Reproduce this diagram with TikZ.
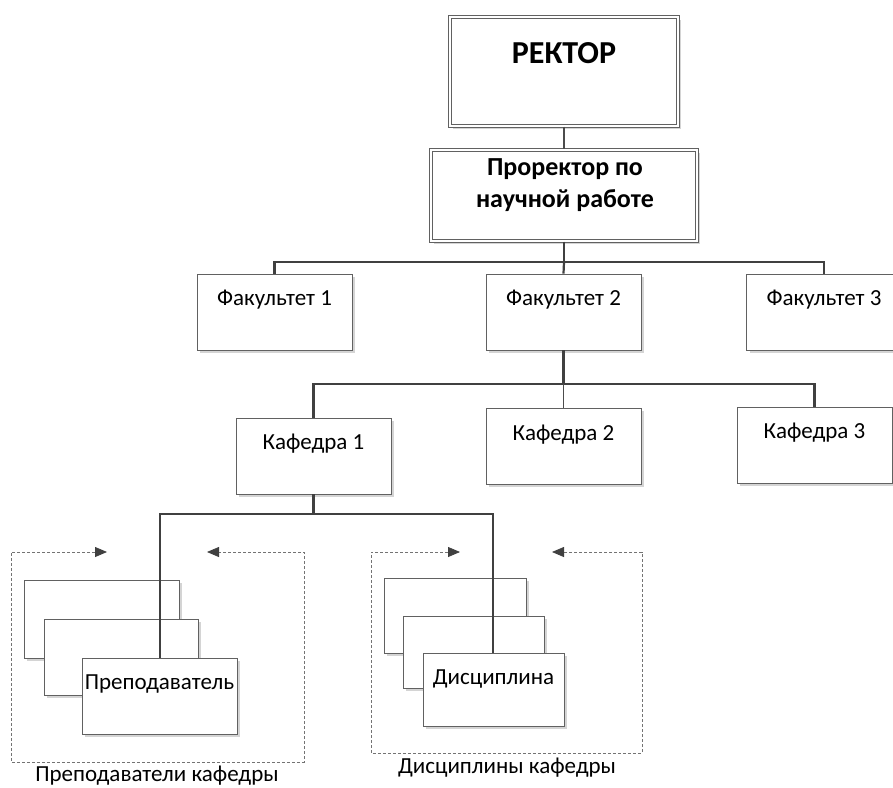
\documentclass[tikz,border=0pt]{standalone}
\usepackage{fontspec}
\setmainfont{Carlito}
\usetikzlibrary{shadows,arrows.meta}
\tikzset{
  box/.style={draw=black!62, line width=0.9pt, fill=white, inner sep=0pt,
    drop shadow={shadow xshift=3pt, shadow yshift=-3pt, fill=black!17, opacity=1}},
  dbox/.style={box, double=white, double distance=1.6pt},
  stdbox/.style={box, minimum width=155pt, minimum height=76pt},
  lbl/.style={anchor=base, inner sep=0pt, font=\fontsize{23}{27}\selectfont},
  conn/.style={draw=black!75, line width=2.2pt},
  thinconn/.style={draw=black!70, line width=1.5pt},
  dashframe/.style={draw=black!55, line width=0.8pt, dash pattern=on 3pt off 2pt,
    {Triangle[length=12pt,width=10pt,color=black!75]}-{Triangle[length=12pt,width=10pt,color=black!75]}}
}
\begin{document}
\begin{tikzpicture}[x=1pt,y=-1pt]
\useasboundingbox (0,0) rectangle (893,787);
% top
\node[dbox, minimum width=228.2pt, minimum height=109.2pt] (rector) at (564,71.5) {};
\node[anchor=base, inner sep=0pt, font=\bfseries\fontsize{32}{36}\selectfont] (rectort) at (564,63) {РЕКТОР};
\node[dbox, minimum width=266.2pt, minimum height=91.2pt] (prorector) at (564,195.5) {};
\node[anchor=base, inner sep=0pt, font=\bfseries\fontsize{26}{30}\selectfont] (prot1) at (565,175) {Проректор по};
\node[anchor=base, inner sep=0pt, font=\bfseries\fontsize{26}{30}\selectfont] (prot2) at (565,207) {научной работе};
% faculties
\node[stdbox] (fak1) at (274.5,312) {};
\node[lbl] (fak1t) at (274.5,305) {Факультет 1};
\node[stdbox] (fak2) at (563.5,312) {};
\node[lbl] (fak2t) at (563.5,305) {Факультет 2};
\node[stdbox] (fak3) at (824,312) {};
\node[lbl] (fak3t) at (824,305) {Факультет 3};
% departments
\node[stdbox] (kaf1) at (313.5,456) {};
\node[lbl] (kaf1t) at (313.5,449) {Кафедра 1};
\node[stdbox] (kaf2) at (563.5,446) {};
\node[lbl] (kaf2t) at (563.5,440) {Кафедра 2};
\node[stdbox] (kaf3) at (814.5,445) {};
\node[lbl] (kaf3t) at (814.5,438) {Кафедра 3};
% teachers stack
\node[box, minimum width=155pt, minimum height=78pt] (prepA) at (101.5,619) {};
\node[box, minimum width=154pt, minimum height=76pt] (prepB) at (121,657) {};
\node[box, minimum width=155pt, minimum height=76pt] (prepC) at (159.5,696) {};
\node[lbl] (prepCt) at (159.5,689) {Преподаватель};
% disciplines stack
\node[box, minimum width=142pt, minimum height=75pt] (discA) at (455,615.5) {};
\node[box, minimum width=141pt, minimum height=72pt] (discB) at (473.5,652) {};
\node[box, minimum width=141pt, minimum height=73pt] (discC) at (493.5,689.5) {};
\node[lbl] (discCt) at (493.5,684) {Дисциплина};
% connectors
\draw[thinconn] (rector.south) -- (prorector.north);
\coordinate (bar1) at (564,262);
\draw[conn] (prorector.south) -- (bar1);
\draw[conn] (fak1.north) |- (bar1) -| (fak3.north);
\draw[conn] (bar1) -- (fak2.north);
\coordinate (bar2) at (563.5,384);
\draw[conn] (fak2.south) -- (bar2);
\draw[conn] (kaf1.north) |- (bar2) -| (kaf3.north);
\draw[thinconn] (bar2) -- (kaf2.north);
\coordinate (bar3) at (313.5,514);
\draw[conn] (kaf1.south) -- (bar3);
\coordinate (prepTop) at (160,658);
\coordinate (discTop) at (493,653);
\draw[conn] (prepTop) |- (bar3) -| (discTop);
% dashed frames
\coordinate (pf1) at (107,552);
\coordinate (pfTL) at (11,552);
\coordinate (pfBL) at (11,762);
\coordinate (pfBR) at (304,762);
\coordinate (pfTR) at (304,552);
\coordinate (pf2) at (207,552);
\draw[dashframe] (pf1) -- (pfTL) -- (pfBL) -- (pfBR) -- (pfTR) -- (pf2);
\coordinate (df1) at (460,552);
\coordinate (dfTL) at (371,552);
\coordinate (dfBL) at (371,753);
\coordinate (dfBR) at (642,753);
\coordinate (dfTR) at (642,552);
\coordinate (df2) at (552,552);
\draw[dashframe] (df1) -- (dfTL) -- (dfBL) -- (dfBR) -- (dfTR) -- (df2);
% captions
\node[lbl] (prepcap) at (157,781) {Преподаватели кафедры};
\node[lbl] (disccap) at (507,773) {Дисциплины кафедры};
\end{tikzpicture}
\end{document}
